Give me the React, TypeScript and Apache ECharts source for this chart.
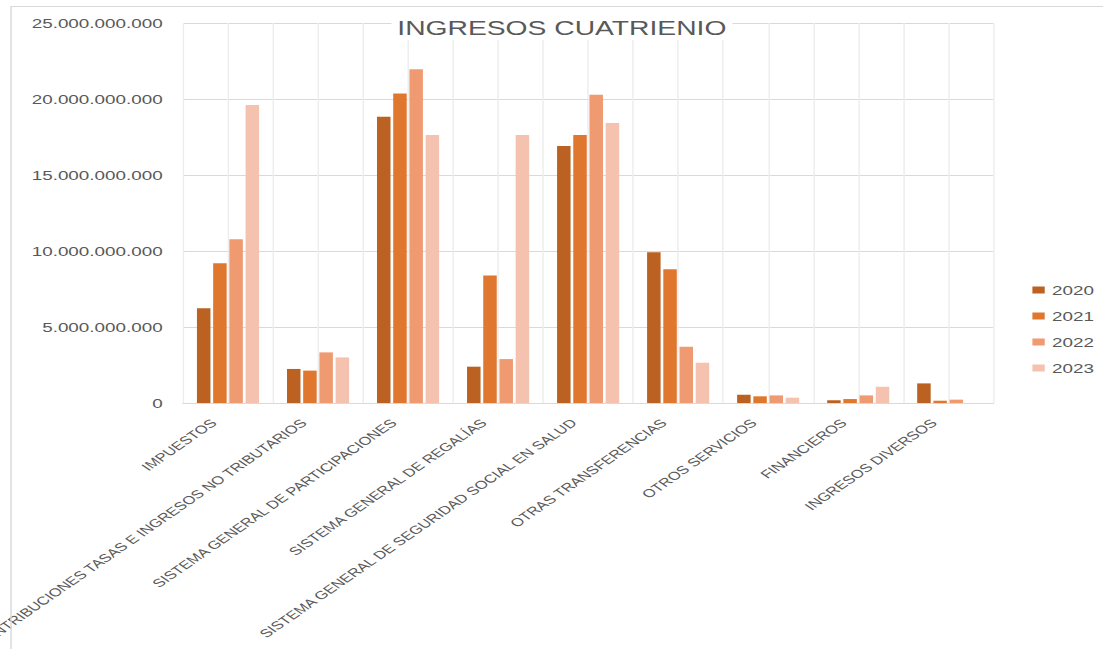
import React, { useEffect, useRef } from "react";
import * as echarts from "echarts";

const categories = [
  "IMPUESTOS",
  "CONTRIBUCIONES TASAS E INGRESOS NO TRIBUTARIOS",
  "SISTEMA GENERAL DE PARTICIPACIONES",
  "SISTEMA GENERAL DE REGALÍAS",
  "SISTEMA GENERAL DE SEGURIDAD SOCIAL EN SALUD",
  "OTRAS TRANSFERENCIAS",
  "OTROS SERVICIOS",
  "FINANCIEROS",
  "INGRESOS DIVERSOS",
];

const years = ["2020", "2021", "2022", "2023"];

const values2020 = [6230000000, 2240000000, 18840000000, 2390000000, 16900000000, 9910000000, 550000000, 180000000, 1290000000];
const values2021 = [9190000000, 2130000000, 20370000000, 8380000000, 17630000000, 8800000000, 440000000, 260000000, 150000000];
const values2022 = [10770000000, 3330000000, 21950000000, 2890000000, 20280000000, 3700000000, 500000000, 500000000, 220000000];
const values2023 = [19600000000, 3000000000, 17630000000, 17630000000, 18420000000, 2650000000, 350000000, 1070000000, 0];

const yTicks = { min: 0, max: 25000000000, interval: 5000000000 };

const colors = ["#BB6223", "#E0772E", "#F09A72", "#F5C2B0"];

const STRETCH = 1.45;
const W = 761;
const H = 649;
const FONT = "'Liberation Sans', Arial, sans-serif";
const TXT = "#595959";

const fmt = (v: number) => String(Math.round(v)).replace(/\B(?=(\d{3})+(?!\d))/g, ".");

export default function App() {
  const ref = useRef<HTMLDivElement>(null);
  useEffect(() => {
    if (!ref.current) return;
    const chart = echarts.init(ref.current, undefined, { renderer: "svg" });
    const seriesData = [values2020, values2021, values2022, values2023];
    chart.setOption({
      animation: false,
      backgroundColor: "#ffffff",
      textStyle: { fontFamily: FONT },
      title: {
        text: "INGRESOS CUATRIENIO",
        left: 270,
        top: 16,
        padding: [2, 4, 2, 4],
        backgroundColor: "#ffffff",
        textStyle: { fontFamily: FONT, fontSize: 19.5, fontWeight: "normal", color: TXT },
      },
      legend: {
        orient: "vertical",
        left: 707,
        top: 278,
        itemWidth: 8.5,
        itemHeight: 7,
        itemGap: 12,
        icon: "rect",
        data: years,
        textStyle: { fontFamily: FONT, fontSize: 13, color: TXT, lineHeight: 14 },
      },
      grid: {
        left: 126.2,
        right: 76,
        top: 23,
        bottom: 246,
        containLabel: false,
        outerBoundsMode: "none",
      },
      xAxis: [
        {
          type: "category",
          data: categories,
          axisLine: { show: true, lineStyle: { color: "#D9D9D9", width: 1 } },
          axisTick: { show: false },
          splitLine: { show: false },
          axisLabel: {
            interval: 0,
            rotate: 45,
            margin: 8,
            padding: [0, 14, 0, 0],
            fontFamily: FONT,
            fontSize: 11.5,
            color: TXT,
          },
        },
        {
          type: "value",
          min: 0,
          max: 9,
          interval: 0.5,
          position: "top",
          axisLine: { show: false },
          axisTick: { show: false },
          axisLabel: { show: false },
          splitLine: { show: true, lineStyle: { color: "#EDEDED", width: 1 } },
        },
      ],
      yAxis: {
        type: "value",
        min: yTicks.min,
        max: yTicks.max,
        interval: yTicks.interval,
        axisLine: { show: false },
        axisTick: { show: false },
        splitLine: { show: true, lineStyle: { color: "#D9D9D9", width: 1 } },
        axisLabel: {
          margin: 14,
          fontFamily: FONT,
          fontSize: 13,
          color: TXT,
          formatter: (v: number) => fmt(v),
        },
      },
      series: years.map((y, i) => ({
        name: y,
        type: "bar",
        xAxisIndex: 0,
        yAxisIndex: 0,
        data: seriesData[i],
        barGap: "20%",
        barCategoryGap: "31%",
        itemStyle: { color: colors[i] },
      })),
      graphic: [
        {
          type: "rect",
          silent: true,
          z: 100,
          shape: { x: 7.6, y: 6.5, width: 900, height: 800 },
          style: { fill: "none", stroke: "#D9D9D9", lineWidth: 1 },
        },
      ],
    });
    return () => chart.dispose();
  }, []);
  return (
    <div
      ref={ref}
      style={{
        position: "absolute",
        left: 0,
        top: 0,
        width: W,
        height: H,
        transform: `scaleX(${STRETCH})`,
        transformOrigin: "0 0",
      }}
    />
  );
}
